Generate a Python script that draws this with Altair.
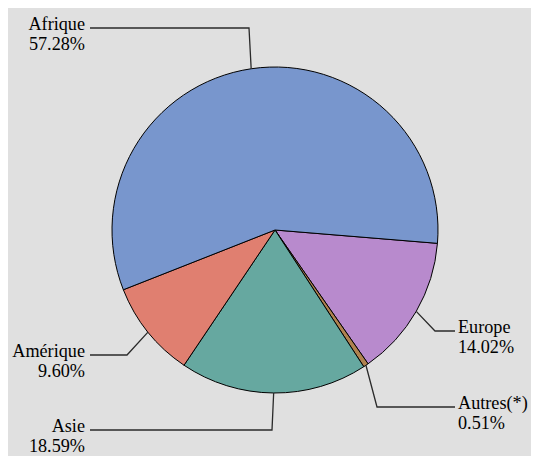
import math
import altair as alt
import pandas as pd

# ---- data ----
categories = ["Europe", "Autres(*)", "Asie", "Amérique", "Afrique"]
shares = [14.02, 0.51, 18.59, 9.60, 57.28]
pct_labels = ["14.02%", "0.51%", "18.59%", "9.60%", "57.28%"]
colors = ["#B88ACD", "#B0824F", "#66A8A0", "#E07F70", "#7896CD"]

# ---- layout (page pixel coordinates; page has an 8px margin) ----
M = 8
W, H = 539 - 2 * M, 456 - M
CX, CY, R = 275, 230, 163
START_DEG = 94.7
elbows = {"Europe": (435, 331), "Autres(*)": (377, 407), "Asie": (272, 430),
          "Amérique": (127, 355), "Afrique": (249, 28)}
right_side = {"Europe", "Autres(*)"}
LINE_END_RIGHT, LINE_END_LEFT = 455, 90
TEXT_RIGHT_X, TEXT_LEFT_X = 458, 85
FONT = "Liberation Serif"
FS = 18.2

start = math.radians(START_DEG)

pie_df = pd.DataFrame({"cat": categories, "share": shares, "ord": list(range(len(categories)))})

# leader lines start at each slice's mid-angle on the rim
line_rows, lab_rows = [], []
cum = 0.0
total = sum(shares)
for cat, v, p in zip(categories, shares, pct_labels):
    mid = start + 2 * math.pi * (cum + v / 2) / total
    cum += v
    ex, ey = CX + R * math.sin(mid), CY - R * math.cos(mid)
    bx, by = elbows[cat]
    endx = LINE_END_RIGHT if cat in right_side else LINE_END_LEFT
    for i, (px, py) in enumerate([(ex, ey), (bx, by), (endx, by)]):
        line_rows.append({"cat": cat, "i": i, "x": px, "y": py})
    tx = TEXT_RIGHT_X if cat in right_side else TEXT_LEFT_X
    lab_rows.append({"cat": cat, "pct": p, "x": tx, "y1": by + 2, "y2": by + 21.5,
                     "side": "right" if cat in right_side else "left"})

line_df = pd.DataFrame(line_rows)
lab_df = pd.DataFrame(lab_rows)

xs = alt.Scale(domain=[M, M + W], nice=False, zero=False)
ys = alt.Scale(domain=[M, M + H], nice=False, zero=False, reverse=True)

pie = alt.Chart(pie_df).mark_arc(x=CX - M, y=CY - M, outerRadius=R, stroke="black",
                                 strokeWidth=1).encode(
    theta=alt.Theta("share:Q", stack=True,
                    scale=alt.Scale(domain=[0, 100], range=[start, start + 2 * math.pi])),
    order=alt.Order("ord:Q"),
    color=alt.Color("cat:N", scale=alt.Scale(domain=categories, range=colors), legend=None),
)

lines = alt.Chart(line_df).mark_line(color="#2a2a2a", strokeWidth=1.3).encode(
    x=alt.X("x:Q", scale=xs, axis=None),
    y=alt.Y("y:Q", scale=ys, axis=None),
    detail="cat:N",
    order="i:Q",
)


def text_layer(df, align, field, ycol):
    return alt.Chart(df).mark_text(align=align, baseline="alphabetic", font=FONT,
                                   fontSize=FS, color="black").encode(
        x=alt.X("x:Q", scale=xs, axis=None),
        y=alt.Y(f"{ycol}:Q", scale=ys, axis=None),
        text=f"{field}:N",
    )


left = lab_df[lab_df.side == "left"]
right = lab_df[lab_df.side == "right"]
texts = [
    text_layer(left, "right", "cat", "y1"),
    text_layer(left, "right", "pct", "y2"),
    text_layer(right, "left", "cat", "y1"),
    text_layer(right, "left", "pct", "y2"),
]

chart = alt.layer(pie, lines, *texts).properties(
    width=W, height=H, padding=0,
    autosize=alt.AutoSizeParams(type="none"),
    background="#E0E0E0",
).configure_view(stroke=None)

chart.save("out.html", embed_options={"renderer": "svg", "actions": False})
